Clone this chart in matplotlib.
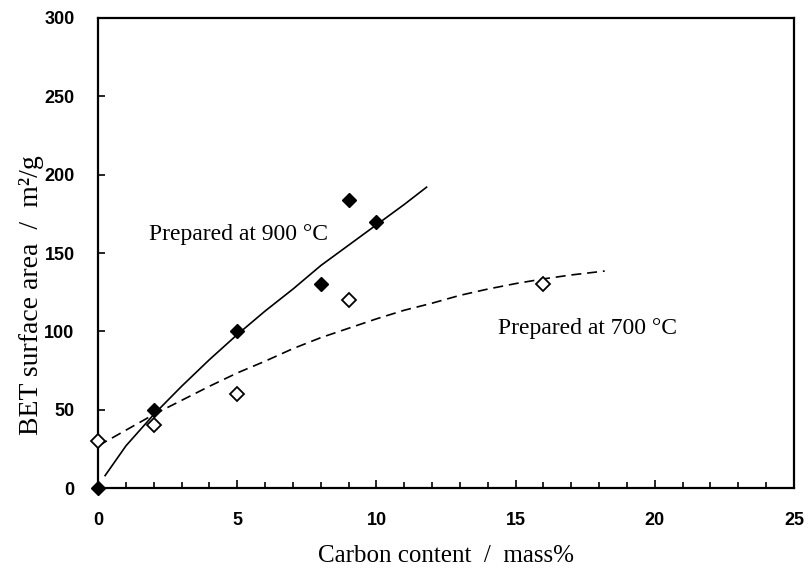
import matplotlib
matplotlib.use("Agg")
import matplotlib.pyplot as plt
from matplotlib.ticker import MultipleLocator

# measured points
c900 = [0, 2, 5, 8, 9, 10]
s900 = [0, 50, 100, 130, 184, 170]
c700 = [0, 2, 5, 9, 16]
s700 = [30, 40, 60, 120, 130]

# trend lines
fit900_x = [0.25, 1, 2, 3, 4, 5, 6, 7, 8, 9, 10, 11, 11.8]
fit900_y = [8, 27, 47, 65, 82, 98, 113, 127, 142, 155, 168, 181, 192]
fit700_x = [0, 1, 2, 3, 4, 5, 6, 7, 8, 9, 10, 11, 12, 13, 14, 15, 16, 17, 18.2]
fit700_y = [27, 37, 47, 56, 65, 73.5, 81, 89, 96, 102, 108, 113.5, 118, 123,
            127, 130.5, 133.5, 136, 138.5]

serif = "Liberation Serif"
sans = "Liberation Sans"

fig = plt.figure(figsize=(8.11, 5.77), dpi=100)
ax = fig.add_axes([0.121, 0.154, 0.858, 0.815])

ax.plot(fit900_x, fit900_y, "-", color="black", lw=1.2)
ax.plot(fit700_x, fit700_y, "--", color="black", lw=1.2, dashes=(6, 3.5))
ax.plot(c900, s900, "D", ms=7.5, mfc="black", mec="black", ls="none",
        clip_on=False, zorder=5)
ax.plot(c700, s700, "D", ms=7.5, mfc="white", mec="black", mew=1.3,
        ls="none", clip_on=False, zorder=5)

ax.text(1.83, 162, "Prepared at 900 °C", family=serif, fontsize=17,
        va="center", ha="left")
ax.text(14.36, 102, "Prepared at 700 °C", family=serif, fontsize=17,
        va="center", ha="left")

ax.set_xlim(0, 25)
ax.set_ylim(0, 300)
ax.xaxis.set_major_locator(MultipleLocator(5))
ax.xaxis.set_minor_locator(MultipleLocator(1))
ax.yaxis.set_major_locator(MultipleLocator(50))
ax.tick_params(axis="both", which="both", direction="in", width=1.2)
ax.tick_params(axis="x", which="major", length=6, pad=17)
ax.tick_params(axis="x", which="minor", length=4)
ax.tick_params(axis="y", which="major", length=5, pad=17)
for lab in ax.get_xticklabels() + ax.get_yticklabels():
    lab.set_family(sans)
    lab.set_fontweight("bold")
    lab.set_fontsize(13)
for sp in ax.spines.values():
    sp.set_linewidth(1.6)

ax.set_xlabel("Carbon content  /  mass%", family=serif, fontsize=18,
              labelpad=12)
ax.set_ylabel("BET surface area  /  m²/g", family=serif, fontsize=20)
ax.yaxis.set_label_coords(-0.078, 0.41)

fig.savefig("out.png", dpi=100)
